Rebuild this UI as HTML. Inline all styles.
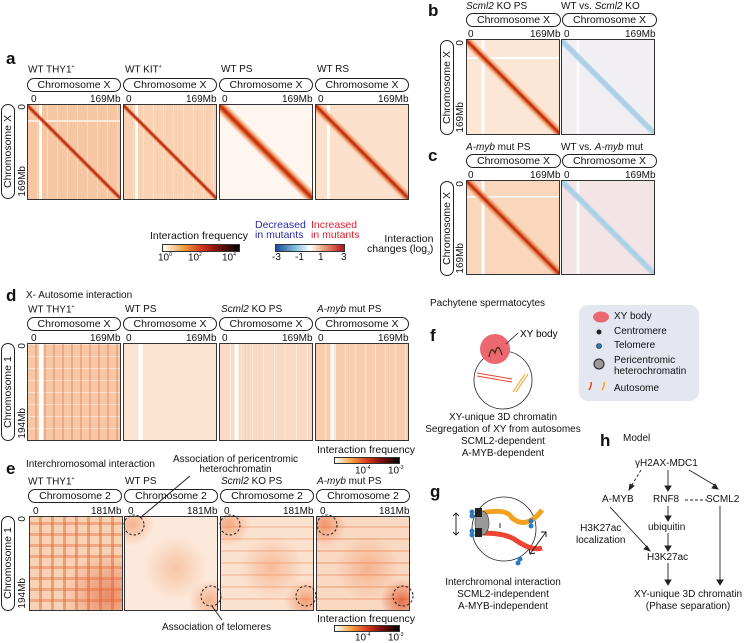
<!DOCTYPE html>
<html><head><meta charset="utf-8"><style>
body{margin:0;width:750px;height:643px;background:#fff;position:relative;overflow:hidden;font-family:"Liberation Sans",sans-serif;color:#111}
.t{position:absolute;font-size:10px;white-space:nowrap;line-height:1}
.L{position:absolute;font-size:17px;font-weight:bold;line-height:1}
.pill{position:absolute;height:12px;border:1px solid #222;border-radius:7px;font-size:10.5px;text-align:center;line-height:12px;background:#fff}
.vp{position:absolute;width:12px;border:1px solid #222;border-radius:7px;font-size:10.5px;writing-mode:vertical-rl;transform:rotate(180deg);text-align:center;line-height:12px}
.vt{position:absolute;font-size:10px;writing-mode:vertical-rl;transform:rotate(180deg);line-height:1}
.hm{position:absolute;border:1px solid #333;box-sizing:border-box}
.grid{background-image:repeating-linear-gradient(90deg,transparent 0 9px,rgba(255,255,255,.55) 9px 10px),repeating-linear-gradient(0deg,transparent 0 11px,rgba(255,255,255,.55) 11px 12px)}
i{font-style:italic}
</style></head><body>
<!-- Panel a -->
<div class="L" style="left:6px;top:50px">a</div>
<div class="t" style="left:28px;top:65px">WT THY1<sup style="font-size:5px">+</sup></div>
<div class="t" style="left:125px;top:65px">WT KIT<sup style="font-size:5px">+</sup></div>
<div class="t" style="left:221px;top:65px">WT PS</div>
<div class="t" style="left:317px;top:65px">WT RS</div>
<div class="pill" style="left:27px;top:78px;width:92px">Chromosome X</div>
<div class="pill" style="left:123px;top:78px;width:92px">Chromosome X</div>
<div class="pill" style="left:219px;top:78px;width:92px">Chromosome X</div>
<div class="pill" style="left:315px;top:78px;width:92px">Chromosome X</div>
<div class="t" style="left:31px;top:95px">0</div><div class="t" style="left:90px;top:95px">169Mb</div>
<div class="t" style="left:126px;top:95px">0</div><div class="t" style="left:186px;top:95px">169Mb</div>
<div class="t" style="left:222px;top:95px">0</div><div class="t" style="left:282px;top:95px">169Mb</div>
<div class="t" style="left:318px;top:95px">0</div><div class="t" style="left:378px;top:95px">169Mb</div>
<div class="vp" style="left:1px;top:104px;height:93px">Chromosome X</div>
<div class="vt" style="left:18px;top:104px">0</div>
<div class="vt" style="left:18px;top:166px">169Mb</div>
<div class="hm" style="left:27px;top:104px;width:94px;height:96px;background-color:#f7c6a2;background-image:linear-gradient(45deg,transparent 48%,#c8360f 49.6%,#a81f08 50%,#c8360f 50.4%,transparent 52%),linear-gradient(90deg,transparent 12%,#fff 12% 15%,transparent 15%),linear-gradient(0deg,transparent 82%,#fceadc 82% 84%,transparent 84%),repeating-linear-gradient(90deg,transparent 0 9px,rgba(255,255,255,.4) 9px 10px)"></div>
<div class="hm" style="left:123px;top:104px;width:94px;height:96px;background-color:#f9d2b4;background-image:linear-gradient(45deg,transparent 48%,#c8360f 49.6%,#a81f08 50%,#c8360f 50.4%,transparent 52%),linear-gradient(90deg,transparent 12%,#fff 12% 15%,transparent 15%),repeating-linear-gradient(90deg,transparent 0 9px,rgba(255,255,255,.4) 9px 10px)"></div>
<div class="hm" style="left:219px;top:104px;width:94px;height:96px;background-color:#fff6f0;background-image:linear-gradient(45deg,transparent 45%,#f4b48c 47%,#d54a1a 49%,#b8280a 50%,#d54a1a 51%,#f4b48c 53%,transparent 55%)"></div>
<div class="hm" style="left:315px;top:104px;width:94px;height:96px;background-color:#fbe0cc;background-image:linear-gradient(45deg,transparent 46%,#ee9b70 48%,#c8360f 49.6%,#a81f08 50%,#c8360f 50.4%,#ee9b70 52%,transparent 54%),linear-gradient(90deg,transparent 12%,#fff 12% 15%,transparent 15%)"></div>
<!-- colorbars a -->
<div class="t" style="left:150px;top:231px;font-size:10.5px">Interaction frequency</div>
<div style="position:absolute;left:162px;top:244px;width:76px;height:6px;border:1px solid #333;background:linear-gradient(90deg,#fff,#f6a545 25%,#d63a1a 50%,#8a1010 70%,#000)"></div>
<div class="t" style="left:158px;top:253px">10<sup style="font-size:5px">0</sup></div>
<div class="t" style="left:188px;top:253px">10<sup style="font-size:5px">2</sup></div>
<div class="t" style="left:222px;top:253px">10<sup style="font-size:5px">4</sup></div>
<div class="t" style="left:255px;top:220px;color:#2a2aa8;font-size:10.5px;line-height:10px">Decreased<br>in mutants</div>
<div class="t" style="left:311px;top:220px;color:#e02030;font-size:10.5px;line-height:10px">Increased<br>in mutants</div>
<div class="t" style="left:367px;top:234px;font-size:10.5px;line-height:10px;text-align:right">Interaction<br>changes (log<sub style="font-size:5px">2</sub>)</div>
<div style="position:absolute;left:275px;top:244px;width:68px;height:6px;border:1px solid #333;background:linear-gradient(90deg,#1a4f9a,#8cc0e0 30%,#fff 50%,#f0a080 70%,#b01020)"></div>
<div class="t" style="left:272px;top:253px">-3</div>
<div class="t" style="left:295px;top:253px">-1</div>
<div class="t" style="left:318px;top:253px">1</div>
<div class="t" style="left:341px;top:253px">3</div>

<!-- Panel b -->
<div class="L" style="left:428px;top:2px">b</div>
<div class="t" style="left:466px;top:2px"><i>Scml2</i> KO PS</div>
<div class="t" style="left:561px;top:2px">WT vs. <i>Scml2</i> KO</div>
<div class="pill" style="left:466px;top:13px;width:93px">Chromosome X</div>
<div class="pill" style="left:562px;top:13px;width:93px">Chromosome X</div>
<div class="t" style="left:468px;top:30px">0</div><div class="t" style="left:530px;top:30px">169Mb</div>
<div class="t" style="left:564px;top:30px">0</div><div class="t" style="left:625px;top:30px">169Mb</div>
<div class="vp" style="left:440px;top:40px;height:93px">Chromosome X</div>
<div class="vt" style="left:456px;top:40px">0</div>
<div class="vt" style="left:456px;top:102px">169Mb</div>
<div class="hm" style="left:466px;top:39px;width:94px;height:96px;background-color:#fce6d6;background-image:linear-gradient(45deg,transparent 46%,#f0a070 48%,#c8360f 49.6%,#a81f08 50%,#c8360f 50.4%,#f0a070 52%,transparent 54%),linear-gradient(90deg,transparent 16%,#fff 16% 19%,transparent 19%),linear-gradient(0deg,transparent 80%,#fff 80% 82%,transparent 82%)"></div>
<div class="hm" style="left:561px;top:39px;width:94px;height:96px;background-color:#f2eff3;background-image:linear-gradient(45deg,transparent 47%,#b5d4e8 48.5%,#a8cde4 50%,#b5d4e8 51.5%,transparent 53%),linear-gradient(90deg,transparent 16%,#fafafa 16% 19%,transparent 19%)"></div>

<!-- Panel c -->
<div class="L" style="left:428px;top:147px">c</div>
<div class="t" style="left:466px;top:143px"><i>A-myb</i> mut PS</div>
<div class="t" style="left:561px;top:143px">WT vs. <i>A-myb</i> mut</div>
<div class="pill" style="left:466px;top:154px;width:93px">Chromosome X</div>
<div class="pill" style="left:562px;top:154px;width:93px">Chromosome X</div>
<div class="t" style="left:468px;top:171px">0</div><div class="t" style="left:530px;top:171px">169Mb</div>
<div class="t" style="left:564px;top:171px">0</div><div class="t" style="left:625px;top:171px">169Mb</div>
<div class="vp" style="left:440px;top:181px;height:93px">Chromosome X</div>
<div class="vt" style="left:456px;top:181px">0</div>
<div class="vt" style="left:456px;top:243px">169Mb</div>
<div class="hm" style="left:466px;top:180px;width:94px;height:95px;background-color:#f9d6bc;background-image:linear-gradient(45deg,transparent 46%,#ee9466 48%,#c8360f 49.6%,#a81f08 50%,#c8360f 50.4%,#ee9466 52%,transparent 54%),linear-gradient(90deg,transparent 16%,#fff 16% 19%,transparent 19%),linear-gradient(0deg,transparent 82%,#fff 82% 84%,transparent 84%)"></div>
<div class="hm" style="left:561px;top:180px;width:94px;height:95px;background-color:#f3e4e6;background-image:linear-gradient(45deg,transparent 47%,#b5d4e8 48.5%,#a8cde4 50%,#b5d4e8 51.5%,transparent 53%),linear-gradient(90deg,transparent 16%,#fafafa 16% 19%,transparent 19%)"></div>

<!-- Panel d -->
<div class="L" style="left:6px;top:287px">d</div>
<div class="t" style="left:26px;top:291px">X- Autosome interaction</div>
<div class="t" style="left:28px;top:305px">WT THY1<sup style="font-size:5px">+</sup></div>
<div class="t" style="left:125px;top:305px">WT PS</div>
<div class="t" style="left:221px;top:305px"><i>Scml2</i> KO PS</div>
<div class="t" style="left:317px;top:305px"><i>A-myb</i> mut PS</div>
<div class="pill" style="left:27px;top:317px;width:92px">Chromosome X</div>
<div class="pill" style="left:123px;top:317px;width:92px">Chromosome X</div>
<div class="pill" style="left:219px;top:317px;width:92px">Chromosome X</div>
<div class="pill" style="left:315px;top:317px;width:92px">Chromosome X</div>
<div class="t" style="left:31px;top:334px">0</div><div class="t" style="left:90px;top:334px">169Mb</div>
<div class="t" style="left:126px;top:334px">0</div><div class="t" style="left:186px;top:334px">169Mb</div>
<div class="t" style="left:222px;top:334px">0</div><div class="t" style="left:282px;top:334px">169Mb</div>
<div class="t" style="left:318px;top:334px">0</div><div class="t" style="left:378px;top:334px">169Mb</div>
<div class="vp" style="left:1px;top:343px;height:96px">Chromosome 1</div>
<div class="vt" style="left:18px;top:343px">0</div>
<div class="vt" style="left:18px;top:408px">194Mb</div>
<div class="hm grid" style="left:27px;top:343px;width:94px;height:98px;background-color:#f6c7a4;background-image:linear-gradient(90deg,transparent 12%,#fff 12% 17%,transparent 17%),repeating-linear-gradient(90deg,transparent 0 7px,rgba(230,110,60,.35) 7px 9px),repeating-linear-gradient(0deg,transparent 0 11px,rgba(255,255,255,.5) 11px 12px)"></div>
<div class="hm" style="left:123px;top:343px;width:94px;height:98px;background-color:#fbe3d1;background-image:linear-gradient(90deg,transparent 16%,#fff 16% 20%,transparent 20%)"></div>
<div class="hm" style="left:219px;top:343px;width:94px;height:98px;background-color:#f9dbc5;background-image:linear-gradient(90deg,transparent 16%,#fff 16% 20%,transparent 20%),repeating-linear-gradient(90deg,transparent 0 10px,rgba(255,255,255,.5) 10px 11px)"></div>
<div class="hm grid" style="left:315px;top:343px;width:94px;height:98px;background-color:#f7cdae;background-image:linear-gradient(90deg,transparent 16%,#fff 16% 20%,transparent 20%),repeating-linear-gradient(90deg,transparent 0 9px,rgba(255,255,255,.5) 9px 10px)"></div>
<div class="t" style="left:317px;top:445px;font-size:10.5px">Interaction frequency</div>
<div style="position:absolute;left:334px;top:457px;width:64px;height:5px;border:1px solid #333;background:linear-gradient(90deg,#fff,#f6a545 25%,#d63a1a 50%,#8a1010 70%,#000)"></div>
<div class="t" style="left:355px;top:466px">10<sup style="font-size:5px">-4</sup></div>
<div class="t" style="left:388px;top:466px">10<sup style="font-size:5px">-3</sup></div>

<!-- Panel e -->
<div class="L" style="left:6px;top:460px">e</div>
<div class="t" style="left:26px;top:460px">Interchromosomal interaction</div>
<div class="t" style="left:173px;top:455px;text-align:center;line-height:10px">Association of pericentromic<br>heterochromatin</div>
<div class="t" style="left:28px;top:477px">WT THY1<sup style="font-size:5px">+</sup></div>
<div class="t" style="left:125px;top:477px">WT PS</div>
<div class="t" style="left:221px;top:477px"><i>Scml2</i> KO PS</div>
<div class="t" style="left:317px;top:477px"><i>A-myb</i> mut PS</div>
<div class="pill" style="left:28px;top:489px;width:92px">Chromosome 2</div>
<div class="pill" style="left:124px;top:489px;width:92px">Chromosome 2</div>
<div class="pill" style="left:220px;top:489px;width:92px">Chromosome 2</div>
<div class="pill" style="left:316px;top:489px;width:92px">Chromosome 2</div>
<div class="t" style="left:33px;top:507px">0</div><div class="t" style="left:91px;top:507px">181Mb</div>
<div class="t" style="left:128px;top:507px">0</div><div class="t" style="left:187px;top:507px">181Mb</div>
<div class="t" style="left:224px;top:507px">0</div><div class="t" style="left:283px;top:507px">181Mb</div>
<div class="t" style="left:320px;top:507px">0</div><div class="t" style="left:379px;top:507px">181Mb</div>
<div class="vp" style="left:1px;top:516px;height:93px">Chromosome 1</div>
<div class="vt" style="left:18px;top:516px">0</div>
<div class="vt" style="left:18px;top:578px">194Mb</div>
<div class="hm" style="left:29px;top:516px;width:94px;height:95px;background-color:#f8d2b4;background-image:repeating-linear-gradient(0deg,transparent 0 8px,rgba(230,90,40,.35) 8px 11px),repeating-linear-gradient(90deg,transparent 0 9px,rgba(230,90,40,.45) 9px 12px),radial-gradient(circle at 85% 85%,rgba(220,70,30,.5),transparent 40%)"></div>
<div class="hm" style="left:124px;top:516px;width:94px;height:95px;background-color:#fce9db;background-image:radial-gradient(ellipse at 55% 55%,rgba(240,150,100,.45),transparent 45%),radial-gradient(circle at 8% 8%,rgba(240,140,90,.6),transparent 18%),radial-gradient(circle at 92% 90%,rgba(240,140,90,.6),transparent 18%)"></div>
<div class="hm" style="left:220px;top:516px;width:94px;height:95px;background-color:#fbe2cf;background-image:radial-gradient(ellipse at 55% 55%,rgba(240,140,90,.45),transparent 45%),radial-gradient(circle at 8% 8%,rgba(240,130,80,.6),transparent 18%),radial-gradient(circle at 92% 90%,rgba(240,130,80,.7),transparent 18%),repeating-linear-gradient(0deg,transparent 0 10px,rgba(240,120,70,.25) 10px 12px)"></div>
<div class="hm" style="left:316px;top:516px;width:94px;height:95px;background-color:#f9d9c2;background-image:radial-gradient(ellipse at 55% 55%,rgba(240,130,80,.45),transparent 45%),radial-gradient(circle at 8% 8%,rgba(240,120,70,.7),transparent 18%),radial-gradient(circle at 92% 90%,rgba(225,80,40,.8),transparent 18%),repeating-linear-gradient(0deg,transparent 0 10px,rgba(240,110,60,.3) 10px 12px)"></div>
<svg style="position:absolute;left:0;top:0" width="750" height="643">
<g fill="none" stroke="#222" stroke-dasharray="2.5,2">
<circle cx="134" cy="525" r="10"/><circle cx="230" cy="525" r="10"/><circle cx="327" cy="525" r="10"/>
<circle cx="211" cy="596" r="10"/><circle cx="306" cy="596" r="10"/><circle cx="403" cy="596" r="10"/>
</g>
<line x1="190" y1="476" x2="140" y2="518" stroke="#222"/>
<line x1="212" y1="606" x2="222" y2="620" stroke="#222"/>
</svg>
<div class="t" style="left:162px;top:623px">Association of telomeres</div>
<div class="t" style="left:317px;top:614px;font-size:10.5px">Interaction frequency</div>
<div style="position:absolute;left:334px;top:625px;width:64px;height:5px;border:1px solid #333;background:linear-gradient(90deg,#fff,#f6a545 25%,#d63a1a 50%,#8a1010 70%,#000)"></div>
<div class="t" style="left:355px;top:633px">10<sup style="font-size:5px">-4</sup></div>
<div class="t" style="left:388px;top:633px">10<sup style="font-size:5px">-3</sup></div>

<!-- Panel f/g/h -->
<div class="t" style="left:430px;top:299px">Pachytene spermatocytes</div>
<div class="L" style="left:430px;top:327px">f</div>
<div class="L" style="left:430px;top:483px">g</div>
<div class="L" style="left:600px;top:432px">h</div>
<div class="t" style="left:623px;top:434px">Model</div>
<div style="position:absolute;left:579px;top:305px;width:120px;height:96px;background:#e4e6f0;border-radius:9px"></div>
<svg style="position:absolute;left:0;top:0" width="750" height="643">
<ellipse cx="601" cy="317" rx="8" ry="5.5" fill="#ec6870"/>
<circle cx="599" cy="332" r="2.5" fill="#222"/>
<circle cx="599" cy="346" r="2.5" fill="#2a7ac0" stroke="#123" stroke-width=".6"/>
<circle cx="599" cy="364" r="5" fill="#999" stroke="#222"/>
<path d="M589 390 q3-5 2-8" stroke="#e42" stroke-width="1.5" fill="none"/><path d="M602 390 q3-5 2-8" stroke="#f5a020" stroke-width="1.5" fill="none"/>
<circle cx="503" cy="380" r="29" fill="#fff" stroke="#222" stroke-width=".8"/>
<circle cx="495" cy="349" r="15" fill="#ec6870"/>
<path d="M489 357 q2-12 6-4 q3-12 7 2" stroke="#3a2a10" stroke-width="1.2" fill="none"/>
<line x1="506" y1="344" x2="518" y2="333" stroke="#222" stroke-width=".8"/>
<text x="520" y="337" font-size="10" font-family="Liberation Sans">XY body</text>
<path d="M477 373 l35 6 M477 376 l35 6" stroke="#e43" stroke-width="1"/>
<path d="M513 392 l12-18 M516 392 l12-18" stroke="#f5a020" stroke-width="1"/>
<circle cx="504" cy="529" r="32" fill="#fff" stroke="#222" stroke-width=".8"/>
<path d="M482 513 q25-5 30 5 q15 12 30-8" stroke="#f5a020" stroke-width="5" fill="none"/>
<path d="M482 533 q25 0 35 8 q15 10 25 7" stroke="#e43" stroke-width="5" fill="none"/>
<ellipse cx="482" cy="523" rx="7" ry="12" fill="#999" stroke="#333" stroke-width=".6"/>
<rect x="475" y="508" width="7" height="9" fill="#222"/><rect x="475" y="528" width="7" height="9" fill="#222"/>
<circle cx="472" cy="512" r="2.5" fill="#2a7ac0"/><circle cx="472" cy="516" r="2.5" fill="#2a7ac0"/><circle cx="472" cy="531" r="2.5" fill="#2a7ac0"/><circle cx="472" cy="535" r="2.5" fill="#2a7ac0"/>
<circle cx="531" cy="521" r="2.5" fill="#2a7ac0"/><circle cx="531" cy="526" r="2.5" fill="#2a7ac0"/><circle cx="520" cy="559" r="2.5" fill="#2a7ac0"/><circle cx="518" cy="563" r="2.5" fill="#2a7ac0"/>
<path d="M456 513 v22 M453 516 l3-3 3 3 M453 532 l3 3 3-3" stroke="#111" fill="none" stroke-width=".9"/>
<path d="M500 523 v5" stroke="#111" stroke-width=".9"/>
<path d="M530 554 l16-22 M529 549 l1 5 5-1 M541 532 l5 0 0 5" stroke="#111" fill="none" stroke-width=".9"/>
<g stroke="#222" stroke-width=".9" fill="#222">
<line x1="641" y1="470" x2="632" y2="485" stroke-dasharray="3,2"/><path d="M629 490 l1-6 4 2z"/>
<line x1="668" y1="470" x2="668" y2="486"/><path d="M665 486 h6 l-3 5z"/>
<line x1="689" y1="470" x2="716" y2="486"/><path d="M718 489 l-6 -1 3-4z"/>
<line x1="685" y1="500" x2="707" y2="500" stroke-dasharray="3,2"/>
<line x1="668" y1="506" x2="668" y2="516"/><path d="M665 516 h6 l-3 5z"/>
<line x1="668" y1="533" x2="668" y2="546"/><path d="M665 546 h6 l-3 5z"/>
<line x1="610" y1="507" x2="647" y2="547"/><path d="M650 551 l-6-2 3-3z"/>
<line x1="668" y1="563" x2="668" y2="580"/><path d="M665 580 h6 l-3 5z"/>
<line x1="720" y1="506" x2="720" y2="580"/><path d="M717 580 h6 l-3 5z"/>
</g>
</svg>
<div class="t" style="left:614px;top:312px">XY body</div>
<div class="t" style="left:614px;top:327px">Centromere</div>
<div class="t" style="left:614px;top:341px">Telomere</div>
<div class="t" style="left:614px;top:355px;line-height:11px">Pericentromic<br>heterochromatin</div>
<div class="t" style="left:614px;top:384px">Autosome</div>
<div class="t" style="left:503px;top:412px;transform:translateX(-50%);text-align:center;line-height:12px">XY-unique 3D chromatin<br>Segregation of XY from autosomes<br>SCML2-dependent<br>A-MYB-dependent</div>
<div class="t" style="left:503px;top:577px;transform:translateX(-50%);text-align:center;line-height:12px">Interchromonal interaction<br>SCML2-independent<br>A-MYB-independent</div>
<div class="t" style="left:635px;top:459px">γH2AX-MDC1</div>
<div class="t" style="left:602px;top:495px">A-MYB</div>
<div class="t" style="left:653px;top:495px">RNF8</div>
<div class="t" style="left:706px;top:495px">SCML2</div>
<div class="t" style="left:648px;top:523px">ubiquitin</div>
<div class="t" style="left:576px;top:523px;text-align:center;line-height:12px">H3K27ac<br>localization</div>
<div class="t" style="left:647px;top:553px">H3K27ac</div>
<div class="t" style="left:688px;top:589px;transform:translateX(-50%);text-align:center;line-height:12px">XY-unique 3D chromatin<br>(Phase separation)</div>
</body></html>
